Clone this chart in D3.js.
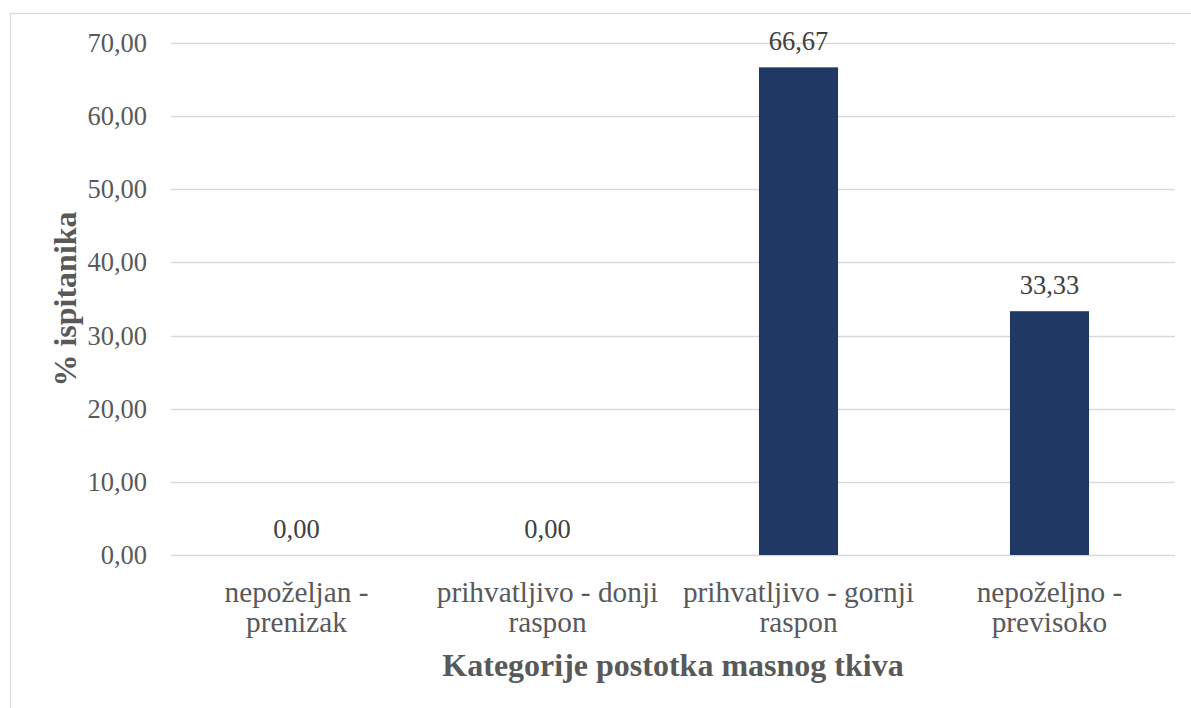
<!DOCTYPE html>
<html>
<head>
<meta charset="utf-8">
<script src="https://cdn.jsdelivr.net/npm/d3@7"></script>
<style>
  body { margin: 0; background: #fff; }
</style>
</head>
<body>
<div id="chart"></div>
<script>
// data
const categories = [
    ['nepoželjan -', 'prenizak'],
    ['prihvatljivo - donji', 'raspon'],
    ['prihvatljivo - gornji', 'raspon'],
    ['nepoželjno -', 'previsoko']
];
const values = [0.00, 0.00, 66.67, 33.33];
const yTicks = [0, 10, 20, 30, 40, 50, 60, 70];
const yTitle = '% ispitanika';
const xTitle = 'Kategorije postotka masnog tkiva';

const W = 1191, H = 708;
const margin = { top: 43, right: 16, bottom: 153, left: 171 };
const width = W - margin.left - margin.right;
const height = H - margin.top - margin.bottom;
const FONT = '"Liberation Serif", "Times New Roman", serif';

const colors = {
    bar: '#203864',
    grid: '#d9d9d9',
    text: '#595959',
    label: '#404040',
    border: '#d9d9d9'
};

const fmt = v => d3.format('.2f')(v).replace('.', ',');

const svgRoot = d3.select('#chart').append('svg')
    .attr('width', W)
    .attr('height', H);

// chart border
svgRoot.append('rect')
    .attr('x', 10.5).attr('y', 13.5)
    .attr('width', 1300).attr('height', 900)
    .attr('fill', 'none')
    .attr('stroke', colors.border)
    .attr('stroke-width', 1.3);

const svg = svgRoot.append('g')
    .attr('transform', `translate(${margin.left},${margin.top})`);

const x = d3.scaleBand()
    .domain(d3.range(categories.length))
    .range([0, width])
    .paddingInner(0.685)
    .paddingOuter(0.3425);

const y = d3.scaleLinear().domain([0, 70]).range([height, 0]);

// grid
svg.append('g')
    .selectAll('line')
    .data(yTicks)
    .join('line')
    .attr('x1', 0).attr('x2', width)
    .attr('y1', d => Math.round(y(d)) + 0.5)
    .attr('y2', d => Math.round(y(d)) + 0.5)
    .attr('stroke', colors.grid)
    .attr('stroke-width', 1.3);

// y axis labels
const yAxis = svg.append('g')
    .call(d3.axisLeft(y).tickValues(yTicks).tickFormat(fmt).tickSize(0).tickPadding(24));
yAxis.select('.domain').remove();
yAxis.selectAll('text')
    .attr('fill', colors.text)
    .style('font-family', FONT)
    .style('font-size', '26.5px');

// bars
svg.append('g')
    .selectAll('rect')
    .data(values)
    .join('rect')
    .attr('x', (d, i) => x(i))
    .attr('y', d => y(d))
    .attr('width', x.bandwidth())
    .attr('height', d => height - y(d))
    .attr('fill', colors.bar);

// data labels
svg.append('g')
    .selectAll('text')
    .data(values)
    .join('text')
    .attr('x', (d, i) => x(i) + x.bandwidth() / 2)
    .attr('y', d => y(d) - 17.5)
    .attr('text-anchor', 'middle')
    .attr('fill', colors.label)
    .style('font-family', FONT)
    .style('font-size', '26.5px')
    .text(fmt);

// category labels
const catG = svg.append('g')
    .selectAll('text')
    .data(categories)
    .join('text')
    .attr('text-anchor', 'middle')
    .attr('fill', colors.text)
    .style('font-family', FONT)
    .style('font-size', '29.3px');
catG.selectAll('tspan')
    .data((d, i) => d.map(t => ({ t, i })))
    .join('tspan')
    .attr('x', d => x(d.i) + x.bandwidth() / 2)
    .attr('y', (d, j) => height + 47 + j * 30)
    .text(d => d.t);

// axis titles
svg.append('text')
    .attr('x', width / 2)
    .attr('y', height + 121)
    .attr('text-anchor', 'middle')
    .attr('fill', colors.text)
    .style('font-family', FONT)
    .style('font-weight', 'bold')
    .style('font-size', '32px')
    .text(xTitle);

svg.append('text')
    .attr('transform', `translate(${76 - margin.left},${height / 2}) rotate(-90)`)
    .attr('text-anchor', 'middle')
    .attr('fill', colors.text)
    .style('font-family', FONT)
    .style('font-weight', 'bold')
    .style('font-size', '32px')
    .text(yTitle);
</script>
</body>
</html>
